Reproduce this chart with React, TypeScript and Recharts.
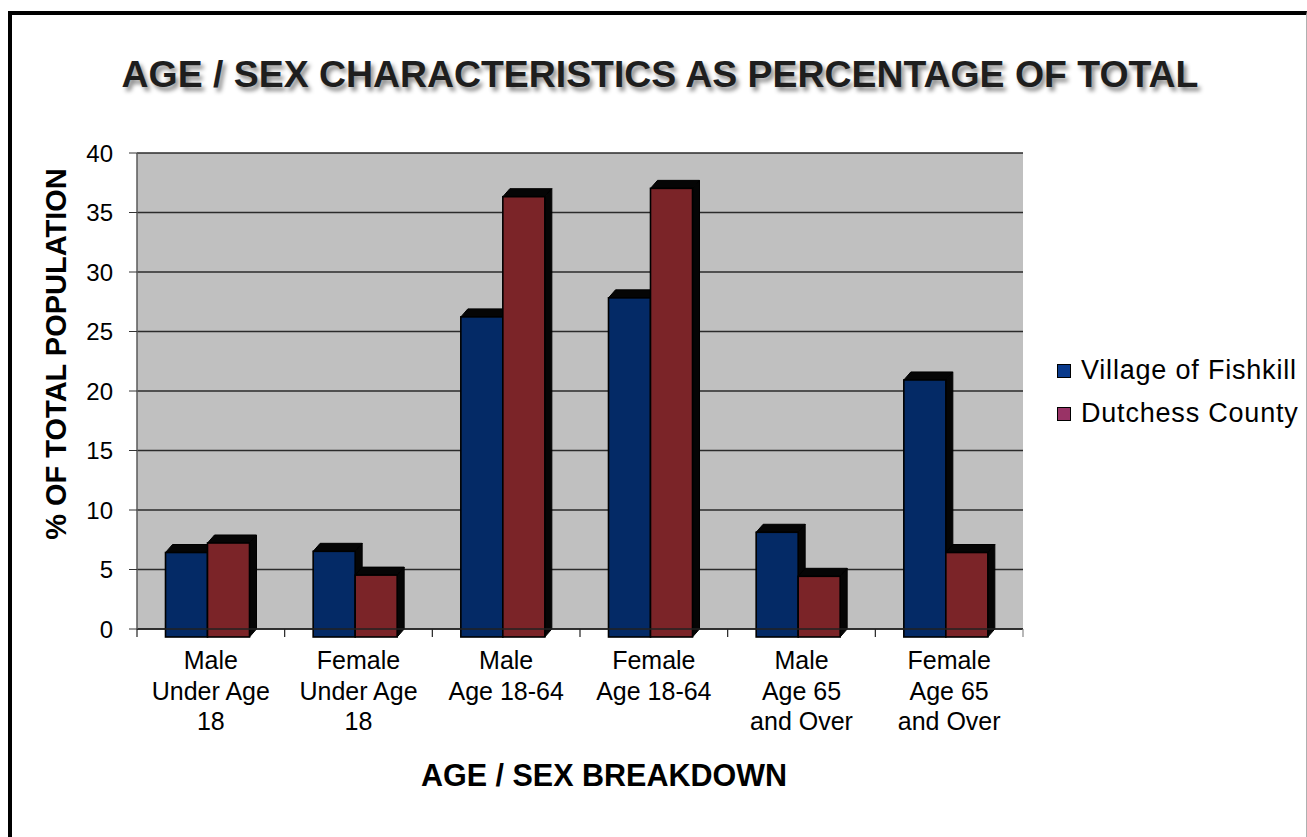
import React from 'react';
import { BarChart, Bar, XAxis, YAxis, CartesianGrid } from 'recharts';

const categories = [
  'Male\nUnder Age\n18',
  'Female\nUnder Age\n18',
  'Male\nAge 18-64',
  'Female\nAge 18-64',
  'Male\nAge 65\nand Over',
  'Female\nAge 65\nand Over',
];
const fishkill = [7.1, 7.2, 26.9, 28.5, 8.8, 21.6];
const dutchess = [7.9, 5.2, 37.0, 37.7, 5.1, 7.1];
const yTicks = [0, 5, 10, 15, 20, 25, 30, 35, 40];

const seriesNames = ['Village of Fishkill', 'Dutchess County'];
const barColors = ['#042a66', '#7b2428'];
const legendColors = ['#0a3a8c', '#993366'];

const data = categories.map((name, i) => ({ name, fishkill: fishkill[i], dutchess: dutchess[i] }));

const W = 1307;
const H = 837;
const PLOT_LEFT = 137;
const PLOT_RIGHT = 1023;
const PLOT_TOP = 153;
const PLOT_BOTTOM = 629;
const FONT = '"Liberation Sans", Arial, sans-serif';

// 3D depth of the columns
const DX = 7;
const DY = 8;

const Bar3D = (props: any) => {
  const { x, y, width, height, fill } = props;
  if (!height || height <= 0) return null;
  const fx = x - DX / 2;
  const fy = y + DY;
  return (
    <g>
      <polygon
        points={`${fx},${fy} ${fx + DX},${fy - DY} ${fx + width + DX},${fy - DY} ${fx + width},${fy}`}
        fill="#050505"
        stroke="#000"
        strokeWidth={1}
      />
      <polygon
        points={`${fx + width},${fy} ${fx + width + DX},${fy - DY} ${fx + width + DX},${fy + height - DY} ${fx + width},${fy + height}`}
        fill="#050505"
        stroke="#000"
        strokeWidth={1}
      />
      <rect x={fx} y={fy} width={width} height={height} fill={fill} stroke="#000" strokeWidth={1.6} />
    </g>
  );
};

const CategoryTick = (props: any) => {
  const { x, payload, index } = props;
  const half = (PLOT_RIGHT - PLOT_LEFT) / categories.length / 2;
  const lines = String(payload.value).split('\n');
  return (
    <g>
      <line x1={x - half} y1={PLOT_BOTTOM} x2={x - half} y2={PLOT_BOTTOM + 8} stroke="#222" strokeWidth={1.2} />
      {index === categories.length - 1 && (
        <line x1={x + half} y1={PLOT_BOTTOM} x2={x + half} y2={PLOT_BOTTOM + 8} stroke="#888" strokeWidth={1.2} />
      )}
      <text x={x} y={PLOT_BOTTOM + 40} textAnchor="middle" fontSize={25} fontFamily={FONT} fill="#000">
        {lines.map((l, i) => (
          <tspan key={i} x={x} dy={i === 0 ? 0 : 30.5}>
            {l}
          </tspan>
        ))}
      </text>
    </g>
  );
};

export default function App() {
  return (
    <div style={{ position: 'absolute', left: 0, top: 0, width: W, height: H, overflow: 'hidden', background: '#fff' }}>
      <div
        style={{
          position: 'absolute',
          left: 8,
          top: 11,
          width: 1299,
          height: 900,
          boxSizing: 'border-box',
          borderTop: '4.5px solid #000',
          borderLeft: '4.5px solid #000',
          borderRight: '1px solid #b0b0b0',
        }}
      />
      <div
        style={{
          position: 'absolute',
          left: 0,
          width: 1320,
          top: 56,
          textAlign: 'center',
          fontFamily: FONT,
          fontWeight: 'bold',
          fontSize: 37.4,
          lineHeight: '37px',
          color: '#1e1e1e',
          textShadow: '3px 4px 4px rgba(0,0,0,0.45)',
          whiteSpace: 'nowrap',
        }}
      >
        AGE / SEX CHARACTERISTICS AS PERCENTAGE OF TOTAL
      </div>
      <div
        style={{
          position: 'absolute',
          left: 56 - 250,
          top: 354 - 14,
          width: 500,
          height: 28,
          textAlign: 'center',
          fontFamily: FONT,
          fontWeight: 'bold',
          fontSize: 29,
          lineHeight: '28px',
          color: '#000',
          transform: 'rotate(-90deg)',
          whiteSpace: 'nowrap',
        }}
      >
        % OF TOTAL POPULATION
      </div>
      <div
        style={{
          position: 'absolute',
          left: 604 - 300,
          top: 760,
          width: 600,
          textAlign: 'center',
          fontFamily: FONT,
          fontWeight: 'bold',
          fontSize: 30.5,
          lineHeight: '30px',
          color: '#000',
          whiteSpace: 'nowrap',
        }}
      >
        AGE / SEX BREAKDOWN
      </div>
      {seriesNames.map((name, i) => (
        <div
          key={name}
          style={{
            position: 'absolute',
            left: 1057,
            top: 357 + i * 43,
            height: 27,
            display: 'flex',
            alignItems: 'center',
            fontFamily: FONT,
            fontSize: 27,
            letterSpacing: 0.8,
            lineHeight: '27px',
            color: '#000',
            whiteSpace: 'nowrap',
          }}
        >
          <span
            style={{
              display: 'inline-block',
              width: 12,
              height: 12,
              background: legendColors[i],
              border: '1.5px solid #000',
              marginRight: 10,
            }}
          />
          {name}
        </div>
      ))}
      <div style={{ position: 'absolute', left: 0, top: 0 }}>
        <BarChart
          width={W}
          height={H}
          data={data}
          margin={{ top: PLOT_TOP, right: W - PLOT_RIGHT, left: PLOT_LEFT - 60, bottom: H - PLOT_BOTTOM - 100 }}
          barGap={0}
          barSize={42}
        >
          <CartesianGrid vertical={false} fill="#c0c0c0" fillOpacity={1} stroke="#2b2b2b" strokeWidth={1.3} />
          <XAxis
            dataKey="name"
            height={100}
            interval={0}
            axisLine={{ stroke: '#222', strokeWidth: 1.3 }}
            tickLine={false}
            tick={<CategoryTick />}
          />
          <XAxis xAxisId="top" orientation="top" dataKey="name" height={0} tick={false} tickLine={false} axisLine={{ stroke: '#808080', strokeWidth: 2 }} />
          <YAxis
            width={60}
            domain={[0, 40]}
            ticks={yTicks}
            interval={0}
            tickSize={8}
            tickMargin={16}
            axisLine={{ stroke: '#5a5a5a', strokeWidth: 1.5 }}
            tickLine={{ stroke: '#333' }}
            tick={{ fill: '#000', fontSize: 24, fontFamily: FONT }}
          />
          <YAxis yAxisId="right" orientation="right" width={0} tick={false} tickLine={false} axisLine={{ stroke: '#808080', strokeWidth: 2 }} />
          <Bar dataKey="fishkill" name={seriesNames[0]} fill={barColors[0]} shape={<Bar3D />} isAnimationActive={false} />
          <Bar dataKey="dutchess" name={seriesNames[1]} fill={barColors[1]} shape={<Bar3D />} isAnimationActive={false} />
        </BarChart>
      </div>
    </div>
  );
}
